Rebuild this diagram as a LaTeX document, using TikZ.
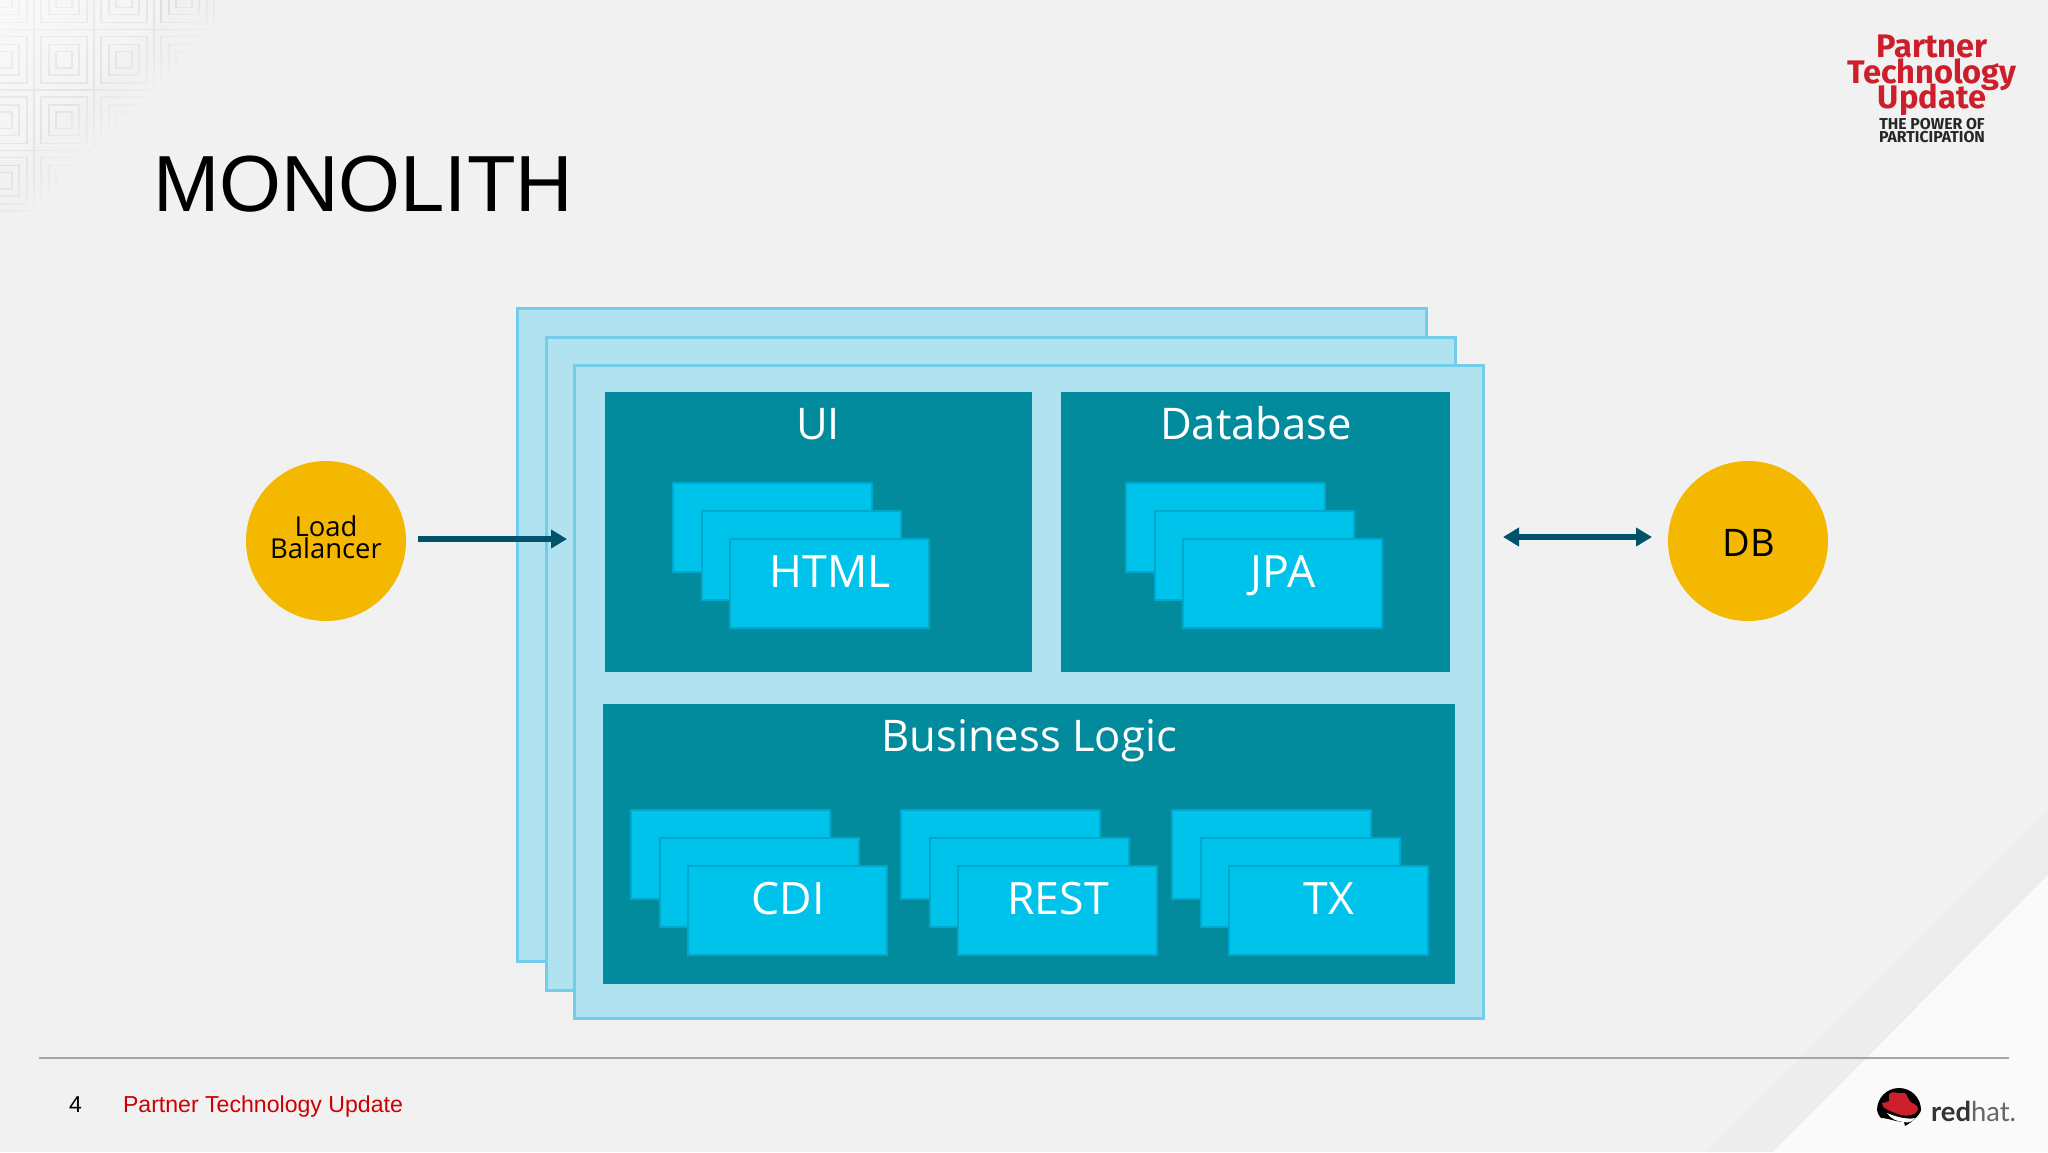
\documentclass[tikz,border=0pt]{standalone}
\usepackage{fontspec}
\setmainfont{Open Sans}
\newfontfamily\titlefont{Liberation Sans}
\newfontfamily\logofont{Fira Sans}
\newfontfamily\hatfont{Lato}
\usetikzlibrary{arrows.meta,fadings}
\definecolor{slidebg}{HTML}{F1F1F2}
\definecolor{framefill}{HTML}{B0E2EF}
\definecolor{frameline}{HTML}{72CDEB}
\definecolor{panelfill}{HTML}{028B9D}
\definecolor{tilefill}{HTML}{00C3EC}
\definecolor{tileline}{HTML}{00A9CC}
\definecolor{ballfill}{HTML}{F5B800}
\definecolor{flowcolor}{HTML}{00536B}
\definecolor{hatred}{HTML}{CC1F2B}
\tikzfading[name=cornerfade,top color=transparent!0,bottom color=transparent!100]
\setlength{\lineskiplimit}{-50pt}
\begin{document}
\begin{tikzpicture}[x=0.5pt,y=-0.5pt]
	\tikzstyle{every node}=[outer sep=0pt,inner sep=0pt]
	\tikzstyle{frame}=[draw=frameline,fill=framefill,line width=1.5pt,anchor=north west,
	minimum width=454.5pt,minimum height=326.5pt]
	\tikzstyle{panel}=[fill=panelfill,anchor=north west,minimum height=140pt]
	\tikzstyle{tile}=[draw=tileline,fill=tilefill,line width=1pt,anchor=north west,
	minimum width=99.5pt,minimum height=44.5pt]
	\tikzstyle{ball}=[fill=ballfill,circle,minimum size=80pt]
	\tikzstyle{head}=[text=white,font=\fontsize{21.8}{25}\selectfont,anchor=base]
	\tikzstyle{tilehead}=[text=white,font=\fontsize{22.3}{25}\selectfont,anchor=base]
	\tikzstyle{flow}=[draw=flowcolor,line width=3pt]

	% slide background
	\useasboundingbox (0,0) rectangle (2048,1152);
	\fill[slidebg] (0,0) rectangle (2048,1152);
	\fill[black!1.5!slidebg] (2048,810) -- (2048,875) -- (1773,1152) -- (1706,1152) -- cycle;
	\fill[white!65!slidebg] (2048,875) -- (2048,1152) -- (1773,1152) -- cycle;
	% corner pattern
	\begin{scope}
		\clip (0,0) -- (240,0) -- (0,240) -- cycle;
		\foreach \i in {-1,...,3}
		\foreach \j in {-1,...,3}
		\foreach \d in {0,7,15,22}
		\draw[black!13,line width=0.9pt] (-26+60*\i+\d,-31+60.5*\j+\d) rectangle (34+60*\i-\d,29.5+60.5*\j-\d);
		\fill[white,path fading=cornerfade,fading angle=45] (-100,-100) rectangle (160,160);
		\foreach \s in {180,187,...,240}
		\fill[slidebg,opacity=0.2] (\s,0) -- (260,0) -- (0,260) -- (0,\s) -- cycle;
	\end{scope}

	% title and logo
	\node[font=\titlefont\fontsize{39.8}{40}\selectfont,anchor=base west] (title) at (153,211) {MONOLITH};
	\node[font=\logofont\bfseries\fontsize{16.3}{12.75}\selectfont,text=hatred,align=center,anchor=north] (event) at (1932,35)
	{Partner\\Technology\\Update};
	\node[font=\logofont\bfseries\fontsize{7.9}{6.5}\selectfont,text=black!85,align=center,anchor=north] (motto) at (1932,118)
	{THE POWER OF\\PARTICIPATION};

	% stacked frames
	\node[frame] (frameA) at (517,308) {};
	\node[frame] (frameB) at (546,337) {};
	\node[frame] (frameC) at (574,365) {};

	\node[panel,minimum width=213.5pt] (ui) at (605,392) {};
	\node[panel,minimum width=194.5pt] (database) at (1061,392) {};
	\node[panel,minimum width=426pt] (business) at (603,704) {};
	\node[head] (uitext) at (818,439) {UI};
	\node[head] (databasetext) at (1256,439) {Database};
	\node[head] (businesstext) at (1029,751) {Business Logic};

	\foreach \name/\xx/\yy/\txt in {html/673/483/HTML,jpa/1126/483/JPA,cdi/631/810/CDI,rest/901/810/REST,tx/1172/810/TX}
	{
		\node[tile] (\name back) at (\xx,\yy) {};
		\node[tile] (\name mid) at (\xx+28.5,\yy+28) {};
		\node[tile] (\name) at (\xx+57,\yy+56) {};
		\node[tilehead] (\name text) at (\xx+157,\yy+104) {\txt};
	}

	% ends and arrows
	\node[ball] (lb) at (326,541) {};
	\node[font=\fontsize{13.7}{11.1}\selectfont,align=center] (lbtext) at (326,537) {Load\\Balancer};
	\node[ball] (db) at (1748,541) {};
	\node[font=\fontsize{19}{19}\selectfont] (dbtext) at (1749,543) {DB};
	\coordinate (lbend) at (567,539);
	\coordinate (dbend) at (1503,537);
	\draw[flow,-{Triangle[length=8pt,width=9pt]},shorten <=6pt] (lb.east |- lbend) -- (lbend);
	\draw[flow,{Triangle[length=8pt,width=9pt]}-{Triangle[length=8pt,width=9pt]},shorten >=48pt] (dbend) -- (db.center |- dbend);

	% footer
	\coordinate (ruleA) at (39,1058);
	\coordinate (ruleB) at (2009,1058);
	\draw[black!35,line width=0.7pt] (ruleA) -- (ruleB);
	\node[font=\titlefont\fontsize{11.5}{12}\selectfont,anchor=base west] (pagenum) at (69,1112) {4};
	\node[font=\titlefont\fontsize{11.55}{12}\selectfont,text=red!80!black,anchor=base west] (footer) at (123,1112) {Partner Technology Update};

	% hat
	\fill[black] (1877,1110) arc[start angle=180,end angle=360,radius=22] .. controls (1920,1115) and (1912,1122) .. (1905,1126) -- (1904,1122) .. controls (1896,1122) and (1888,1118) .. (1881,1118) .. controls (1879,1116) and (1878,1114) .. (1877,1110) -- cycle;
	\fill[white] (1887,1113) .. controls (1894,1116) and (1906,1120) .. (1915,1118) .. controls (1912,1122) and (1908,1123) .. (1904,1122) .. controls (1897,1122) and (1890,1118) .. (1887,1113) -- cycle;
	\fill[hatred] (1889,1094) .. controls (1893,1090) and (1897,1094) .. (1901,1093) .. controls (1906,1091) and (1907,1096) .. (1909,1100) .. controls (1911,1104) and (1917,1104) .. (1918,1108) .. controls (1918,1114) and (1908,1118) .. (1898,1114) .. controls (1890,1111) and (1881,1108) .. (1882,1103) .. controls (1884,1102) and (1887,1103) .. (1889,1101) -- cycle;
	\node[font=\hatfont\fontsize{13.7}{14}\selectfont,text=black!80,anchor=base west] (redhat) at (1931,1121) {\textbf{red}\textcolor{black!60}{hat.}};
\end{tikzpicture}
\end{document}
